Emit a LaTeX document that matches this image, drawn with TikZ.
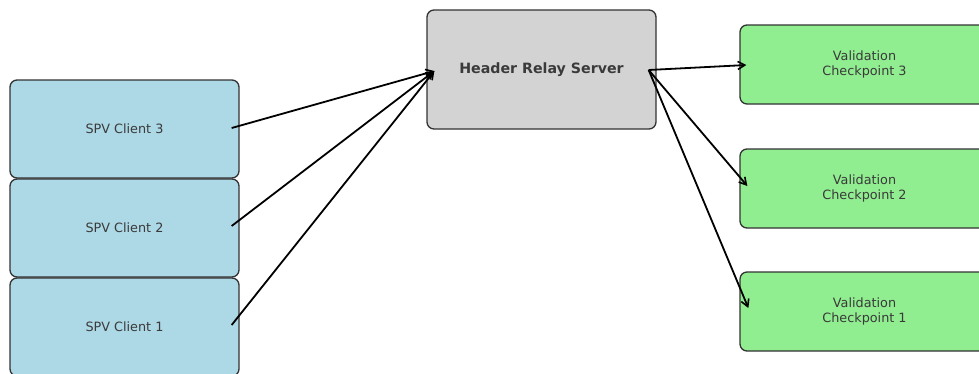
\documentclass[tikz,border=0pt]{standalone}
\usepackage{fontspec}
\setmainfont{DejaVu Sans}
\usetikzlibrary{arrows.meta,calc}
\definecolor{clientfill}{HTML}{ADD8E6}
\definecolor{serverfill}{HTML}{D3D3D3}
\definecolor{checkfill}{HTML}{90EE90}
\definecolor{edgegray}{HTML}{333333}
\definecolor{textgray}{HTML}{3A3A3A}
\tikzset{
  box/.style={draw=edgegray, line width=1.3pt, rounded corners=7pt, inner sep=0pt,
    text=textgray, align=center, font=\fontsize{12.8}{14.2}\selectfont},
  client/.style={box, fill=clientfill, minimum width=229pt, minimum height=98pt},
  server/.style={box, fill=serverfill, minimum width=229pt, minimum height=119pt,
    font=\fontsize{14.2}{17}\selectfont\bfseries},
  check/.style={box, fill=checkfill, minimum width=249pt, minimum height=79pt},
  link/.style={line width=1.8pt, black, -{Straight Barb[length=7pt,width=8pt,line width=1.6pt]}},
}
\begin{document}
\begin{tikzpicture}[x=1pt,y=-1pt]
\useasboundingbox (0,0) rectangle (979,373);
\clip (0,0) rectangle (979,373);
\fill[white] (0,0) rectangle (979,373);

% clients on the left
\node[client] (c3) at (124.5,129) {SPV Client 3};
\node[client] (c2) at (124.5,228) {SPV Client 2};
\node[client] (c1) at (124.5,327) {SPV Client 1};

% relay server
\node[server] (srv) at (541.5,69.5) {Header Relay Server};

% checkpoints on the right
\node[check] (v3) at (864.5,64.5) {Validation\\Checkpoint 3};
\node[check] (v2) at (864.5,188.5) {Validation\\Checkpoint 2};
\node[check] (v1) at (864.5,311.5) {Validation\\Checkpoint 1};

% arrow end points just inside the box edges
\coordinate (srvin)  at ($(srv.west)+(8,1.5)$);
\coordinate (srvout) at ($(srv.east)+(-8,0.5)$);
\coordinate (c3o) at ($(c3.east)+(-8,-1)$);
\coordinate (c2o) at ($(c2.east)+(-8,-2)$);
\coordinate (c1o) at ($(c1.east)+(-8,-2)$);
\coordinate (v3i) at ($(v3.west)+(7,0.5)$);
\coordinate (v2i) at ($(v2.west)+(8,-2.5)$);
\coordinate (v1i) at ($(v1.west)+(9,-3.5)$);

\draw[link] (c3o) -- (srvin);
\draw[link] (c2o) -- (srvin);
\draw[link] (c1o) -- (srvin);
\draw[link] (srvout) -- (v3i);
\draw[link] (srvout) -- (v2i);
\draw[link] (srvout) -- (v1i);
\end{tikzpicture}
\end{document}
